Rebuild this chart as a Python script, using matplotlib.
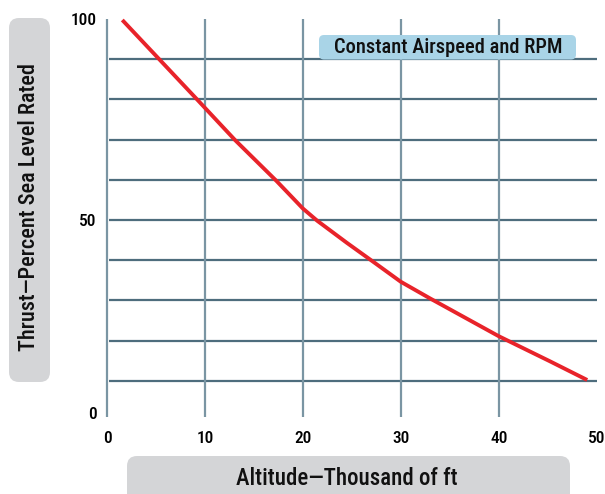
import matplotlib
matplotlib.use("Agg")
import matplotlib.pyplot as plt
from matplotlib import font_manager
from matplotlib.patches import FancyBboxPatch
from matplotlib.transforms import ScaledTranslation

# ---- data ----
altitude = [1.56, 9.15, 13.06, 17.3, 19.97, 21.46, 24.46, 27.17, 29.97, 32.96, 39.97, 45.2, 49.0]
thrust = [99.75, 80.1, 69.9, 59.7, 52.9, 49.8, 44.35, 39.6, 34.65, 30.5, 21.1, 14.85, 10.2]
x_ticks = [0, 10, 20, 30, 40, 50]
y_ticks = [0, 50, 100]
h_grid = [10, 20, 30, 40, 50, 60, 70, 80, 90]
v_grid = [0, 10, 20, 30, 40]
title_text = "Constant Airspeed and RPM"
xlabel_text = "Altitude\u2014Thousand of ft"
ylabel_text = "Thrust\u2014Percent Sea Level Rated"

# ---- font choice ----
names = {f.name for f in font_manager.fontManager.ttflist}
family = "Liberation Sans"
for cand in ["Liberation Sans Narrow", "Roboto Condensed", "Open Sans Condensed",
             "Noto Sans Condensed", "DejaVu Sans Condensed"]:
    if cand in names:
        family = cand
        break
plt.rcParams['font.family'] = [family, 'DejaVu Sans']
plt.rcParams['font.weight'] = 'medium'

W, H = 605, 494
fig = plt.figure(figsize=(W / 100, H / 100), dpi=100)

# axes: x 0->107px, 50->597px ; y 100->19px, 0->421px
ax = fig.add_axes([107 / W, 1 - 421 / H, 490 / W, 402 / H])
ax.set_xlim(0, 50)
ax.set_ylim(0, 100)
for s in ax.spines.values():
    s.set_visible(False)

ax.hlines(h_grid, 0.2, 50, colors='#4e6d7d', linewidth=1.6, zorder=1)
ax.vlines(v_grid, 1, 100, colors='#7a95a3', linewidth=1.6, zorder=1, clip_on=False)

ax.plot(altitude, thrust, color='#e8232a', linewidth=2.8, solid_capstyle='butt',
        solid_joinstyle='round', zorder=3, clip_on=False)

ax.set_xticks(x_ticks)
ax.set_yticks(y_ticks)
ax.tick_params(length=0, labelsize=12.5, colors='black')
ax.tick_params(axis='y', pad=7.5)
ax.tick_params(axis='x', pad=7)

# nudge "0" y label up
fig.canvas.draw()
lbl0 = ax.get_yticklabels()[0]
lbl0.set_transform(lbl0.get_transform() + ScaledTranslation(0, 8 / 100, fig.dpi_scale_trans))

def px_box(x0, y0, x1, y1, color, r, z=1):
    b = FancyBboxPatch(((x0) / 100, (H - y1) / 100), (x1 - x0) / 100, (y1 - y0) / 100,
                       boxstyle=f"round,pad=0,rounding_size={r}",
                       transform=fig.dpi_scale_trans, facecolor=color,
                       edgecolor='none', zorder=z)
    fig.patches.append(b)
    return b

# y label box
px_box(9, 18, 50, 382, '#d4d5d7', 0.1)
fig.text(29.5 / W, 1 - 207 / H, ylabel_text, rotation=90, ha='center', va='center',
         fontsize=16, color='#111111')

# x label box
px_box(127, 456, 570, 520, '#d4d5d7', 0.1)
fig.text(347 / W, 1 - 478.5 / H, xlabel_text, ha='center', va='center',
         fontsize=16.5, color='#111111')

# title box in plot
px_box(319, 35, 576, 59.5, '#a9d4e7', 0.05, z=2)
fig.text(448 / W, 1 - 47.5 / H, title_text, ha='center', va='center',
         fontsize=14.8, color='#111111', zorder=3)

fig.savefig("out.png", dpi=100)
